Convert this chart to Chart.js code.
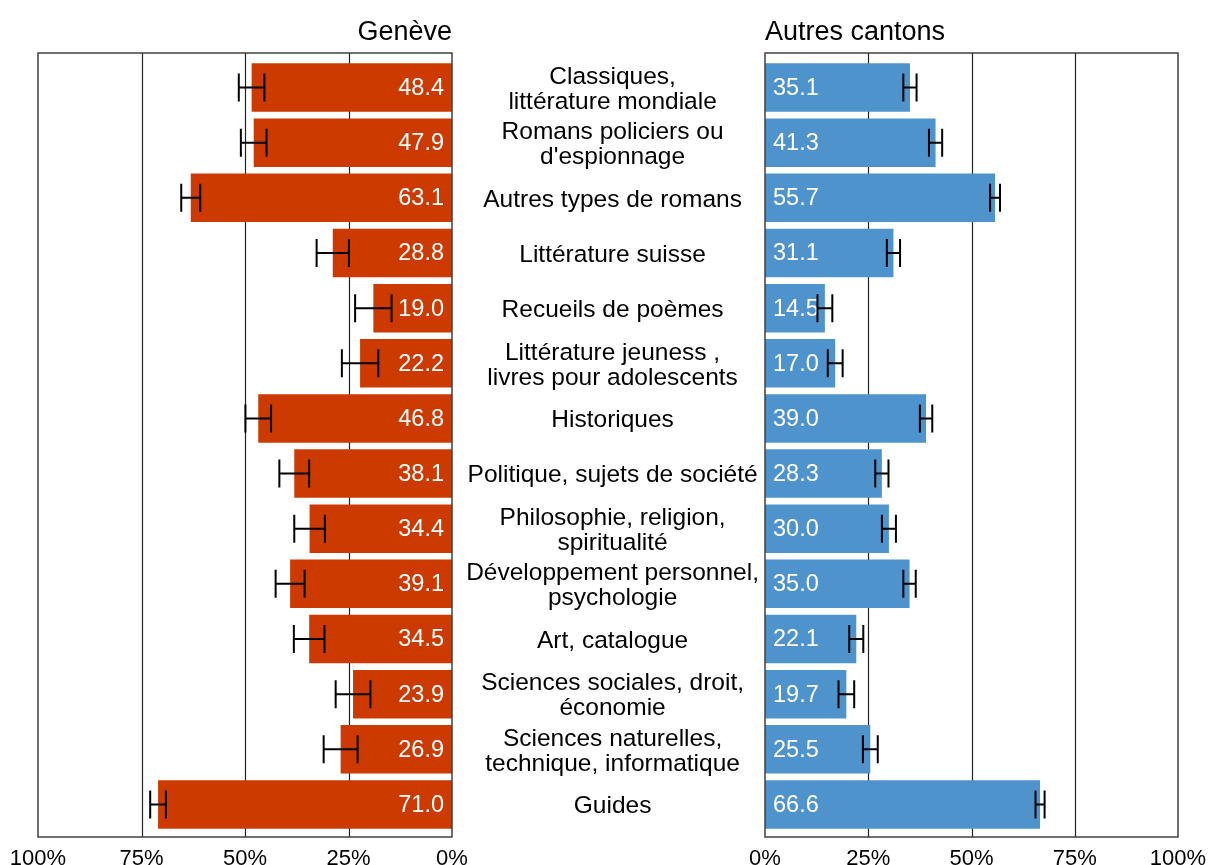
<!DOCTYPE html>
<html>
<head>
<meta charset="utf-8">
<script src="https://cdn.jsdelivr.net/npm/chart.js@4"></script>
<style>
  html, body { margin: 0; padding: 0; background: #fff; }
  #wrap { position: relative; width: 1208px; height: 865px; overflow: hidden; }
  canvas { position: absolute; top: 0; }
  #left { left: 0; }
  #right { left: 452px; }
</style>
</head>
<body>
<div id="wrap">
  <canvas id="left" width="470" height="865"></canvas>
  <canvas id="right" width="756" height="865"></canvas>
</div>
<script>
const categories = [
  ["Classiques,", "littérature mondiale"],
  ["Romans policiers ou", "d'espionnage"],
  "Autres types de romans",
  "Littérature suisse",
  "Recueils de poèmes",
  ["Littérature jeuness ,", "livres pour adolescents"],
  "Historiques",
  "Politique, sujets de société",
  ["Philosophie, religion,", "spiritualité"],
  ["Développement personnel,", "psychologie"],
  "Art, catalogue",
  ["Sciences sociales, droit,", "économie"],
  ["Sciences naturelles,", "technique, informatique"],
  "Guides"
];
const geneve    = [48.4, 47.9, 63.1, 28.8, 19.0, 22.2, 46.8, 38.1, 34.4, 39.1, 34.5, 23.9, 26.9, 71.0];
const geneveErr = [3.1, 3.1, 2.3, 3.9, 4.4, 4.4, 3.1, 3.6, 3.7, 3.5, 3.7, 4.2, 4.1, 1.9];
const autres    = [35.1, 41.3, 55.7, 31.1, 14.5, 17.0, 39.0, 28.3, 30.0, 35.0, 22.1, 19.7, 25.5, 66.6];
const autresErr = [1.6, 1.6, 1.2, 1.6, 1.8, 1.8, 1.5, 1.6, 1.7, 1.5, 1.7, 1.9, 1.8, 1.1];
const xTicks = [0, 25, 50, 75, 100];

const FONT = "'Liberation Sans', Arial, sans-serif";
// the frame sits a little outside the category band
const FRAME_TOP = 7, FRAME_BOTTOM = 5;

const barExtras = {
  id: 'barExtras',
  beforeDatasetsDraw(chart) {
    const ctx = chart.ctx, xs = chart.scales.x, ca = chart.chartArea;
    ctx.save();
    ctx.strokeStyle = '#222';
    ctx.lineWidth = 1.2;
    xTicks.slice(1, -1).forEach(t => {
      const x = Math.round(xs.getPixelForValue(t)) + 0.5;
      ctx.beginPath();
      ctx.moveTo(x, ca.top - FRAME_TOP);
      ctx.lineTo(x, ca.bottom + FRAME_BOTTOM);
      ctx.stroke();
    });
    ctx.restore();
  },
  afterDatasetsDraw(chart, args, opts) {
    const ctx = chart.ctx;
    const xs = chart.scales.x, ys = chart.scales.y;
    const vals = chart.data.datasets[0].data;
    const errs = opts.errors;
    const x0 = xs.getPixelForValue(0);
    ctx.save();
    // white value labels inside the bars
    ctx.font = '23.5px ' + FONT;
    ctx.fillStyle = '#fff';
    ctx.textBaseline = 'middle';
    ctx.textAlign = opts.side === 'left' ? 'right' : 'left';
    vals.forEach((v, i) => {
      const y = ys.getPixelForValue(i);
      const x = opts.side === 'left' ? x0 - 8 : x0 + 8;
      ctx.fillText(v.toFixed(1), x, y + 1);
    });
    // error bars
    ctx.strokeStyle = '#000';
    ctx.lineWidth = 2;
    vals.forEach((v, i) => {
      const y = ys.getPixelForValue(i);
      const a = xs.getPixelForValue(v - errs[i]);
      const b = xs.getPixelForValue(v + errs[i]);
      ctx.beginPath();
      ctx.moveTo(a, y); ctx.lineTo(b, y);
      ctx.moveTo(a, y - 14); ctx.lineTo(a, y + 14);
      ctx.moveTo(b, y - 14); ctx.lineTo(b, y + 14);
      ctx.stroke();
    });
    // frame
    const ca = chart.chartArea;
    ctx.strokeStyle = '#404040';
    ctx.lineWidth = 1.5;
    ctx.strokeRect(ca.left, ca.top - FRAME_TOP, ca.right - ca.left, ca.bottom - ca.top + FRAME_TOP + FRAME_BOTTOM);
    ctx.restore();
  }
};

function xAxis(reverse) {
  return {
    type: 'linear',
    min: 0, max: 100,
    reverse: reverse,
    afterBuildTicks(scale) { scale.ticks = xTicks.map(v => ({ value: v })); },
    afterFit(scale) {
      scale.height = 33;
      scale.paddingLeft = 0;
      scale.paddingRight = 0;
    },
    grid: { display: false, drawTicks: false },
    border: { display: false },
    ticks: {
      padding: 14,
      maxRotation: 0,
      color: '#000',
      font: { family: FONT, size: 22 },
      callback: v => v + '%'
    }
  };
}

function titleOpts(text, align) {
  return {
    display: true,
    text: text,
    align: align,
    fullSize: false,
    color: '#000',
    font: { family: FONT, size: 27, weight: 'normal', lineHeight: 1.2 },
    padding: { top: 16, bottom: 11.6 }
  };
}

new Chart(document.getElementById('left'), {
  type: 'bar',
  data: {
    labels: categories,
    datasets: [{ data: geneve, backgroundColor: '#cc3a00', categoryPercentage: 1, barPercentage: 0.88 }]
  },
  options: {
    indexAxis: 'y',
    responsive: false,
    animation: false,
    layout: { padding: { left: 38, right: 18, top: 0, bottom: 0 } },
    scales: {
      x: xAxis(true),
      y: { display: false, ticks: { autoSkip: false } }
    },
    plugins: {
      legend: { display: false },
      tooltip: { enabled: false },
      title: titleOpts('Genève', 'end'),
      barExtras: { side: 'left', errors: geneveErr }
    }
  },
  plugins: [barExtras]
});

new Chart(document.getElementById('right'), {
  type: 'bar',
  data: {
    labels: categories,
    datasets: [{ data: autres, backgroundColor: '#4f93cc', categoryPercentage: 1, barPercentage: 0.88 }]
  },
  options: {
    indexAxis: 'y',
    responsive: false,
    animation: false,
    layout: { padding: { left: 0, right: 30, top: 0, bottom: 0 } },
    scales: {
      x: xAxis(false),
      y: {
        afterFit(scale) {
          scale.width = 313;
          scale.paddingTop = 0;
          scale.paddingBottom = 0;
        },
        grid: { display: false, drawTicks: false },
        border: { display: false },
        ticks: {
          autoSkip: false,
          crossAlign: 'center',
          padding: 6,
          labelOffset: 2,
          color: '#000',
          font: { family: FONT, size: 24.5, lineHeight: 1.02 }
        }
      }
    },
    plugins: {
      legend: { display: false },
      tooltip: { enabled: false },
      title: titleOpts('Autres cantons', 'start'),
      barExtras: { side: 'right', errors: autresErr }
    }
  },
  plugins: [barExtras]
});
</script>
</body>
</html>
